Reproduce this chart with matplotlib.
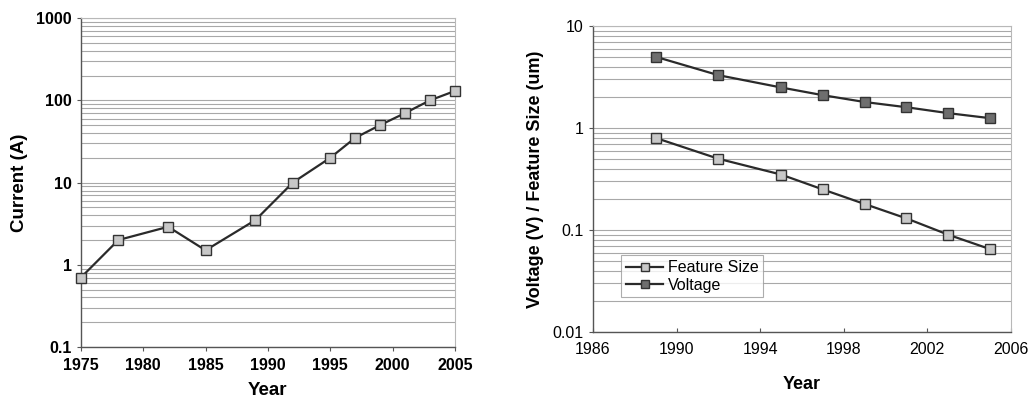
import matplotlib
matplotlib.use("Agg")
import matplotlib.pyplot as plt
from matplotlib.ticker import LogLocator, NullFormatter

plt.rcParams['font.family'] = ['Liberation Sans', 'DejaVu Sans']

# Left chart: current
cur_years = [1975, 1978, 1982, 1985, 1989, 1992, 1995, 1997, 1999, 2001, 2003, 2005]
cur_vals = [0.7, 2.0, 2.9, 1.5, 3.5, 10, 20, 35, 50, 70, 100, 130]
cur_xticks = [1975, 1980, 1985, 1990, 1995, 2000, 2005]
cur_yticks = [0.1, 1, 10, 100, 1000]
cur_yticklabels = ['0.1', '1', '10', '100', '1000']

# Right chart: voltage / feature size
vf_years = [1989, 1992, 1995, 1997, 1999, 2001, 2003, 2005]
feature_size = [0.8, 0.5, 0.35, 0.25, 0.18, 0.13, 0.09, 0.065]
voltage = [5.0, 3.3, 2.5, 2.1, 1.8, 1.6, 1.4, 1.25]
vf_xticks = [1986, 1990, 1994, 1998, 2002, 2006]
vf_yticks = [0.01, 0.1, 1, 10]
vf_yticklabels = ['0.01', '0.1', '1', '10']

fig = plt.figure(figsize=(10.30, 4.01), dpi=100)
ax1 = fig.add_axes([0.0786, 0.1347, 0.363, 0.820])
ax2 = fig.add_axes([0.5757, 0.172, 0.4058, 0.763])

grid_c = '#a8a8a8'
line_c = '#2a2a2a'
light = '#c8c8c8'
dark = '#6e6e6e'
tick_fs = 11.5

def style(ax):
    ax.set_yscale('log')
    ax.yaxis.set_minor_locator(LogLocator(base=10, subs=range(2, 10)))
    ax.yaxis.set_minor_formatter(NullFormatter())
    ax.grid(True, which='both', axis='y', color=grid_c, linewidth=0.8)
    ax.set_axisbelow(True)
    for s in ['top', 'right']:
        ax.spines[s].set_color('#b8b8b8')
        ax.spines[s].set_linewidth(0.8)
    for s in ['left', 'bottom']:
        ax.spines[s].set_color('#555555')
        ax.spines[s].set_linewidth(1.0)
    ax.tick_params(axis='y', which='minor', length=0)
    ax.tick_params(axis='both', which='major', length=3, color='#555555')

mk = dict(marker='s', markersize=7.5, markeredgecolor='#333333', markeredgewidth=1.0,
          clip_on=False, zorder=5)

# Left
ax1.plot(cur_years, cur_vals, color=line_c, lw=1.6, markerfacecolor=light, **mk)
style(ax1)
ax1.set_xlim(1975, 2005)
ax1.set_ylim(0.1, 1000)
ax1.set_xticks(cur_xticks)
ax1.set_yticks(cur_yticks)
ax1.set_yticklabels(cur_yticklabels)
for lab in ax1.get_xticklabels() + ax1.get_yticklabels():
    lab.set_fontweight('bold')
    lab.set_fontsize(tick_fs)
ax1.tick_params(axis='x', pad=5)
ax1.set_xlabel('Year', fontsize=13.5, fontweight='bold')
ax1.xaxis.set_label_coords(0.5, -0.108)
ax1.set_ylabel('Current (A)', fontsize=13.5, fontweight='bold', labelpad=6)

# Right
ax2.plot(vf_years, feature_size, color=line_c, lw=1.6, markerfacecolor=light,
         label='Feature Size', **mk)
ax2.plot(vf_years, voltage, color=line_c, lw=1.6, markerfacecolor=dark,
         label='Voltage', **mk)
style(ax2)
ax2.set_xlim(1986, 2006)
ax2.set_ylim(0.01, 10)
ax2.set_xticks(vf_xticks)
ax2.set_yticks(vf_yticks)
ax2.set_yticklabels(vf_yticklabels)
ax2.tick_params(axis='x', direction='in', pad=7)
for lab in ax2.get_xticklabels() + ax2.get_yticklabels():
    lab.set_fontsize(tick_fs)
ax2.set_xlabel('Year', fontsize=13, fontweight='bold')
ax2.xaxis.set_label_coords(0.5, -0.145)
ax2.set_ylabel('Voltage (V) / Feature Size (um)', fontsize=13, fontweight='bold', labelpad=6)
leg = ax2.legend(loc='lower left', bbox_to_anchor=(0.068, 0.113), fontsize=11.5,
                 frameon=True, fancybox=False, edgecolor='#999999',
                 handlelength=2.3, handletextpad=0.3, borderpad=0.3,
                 labelspacing=0.15, markerscale=0.8, borderaxespad=0)
leg.get_frame().set_linewidth(0.8)
leg._legend_box.sep = 2
fig.savefig('out.png', dpi=100, facecolor='white')
